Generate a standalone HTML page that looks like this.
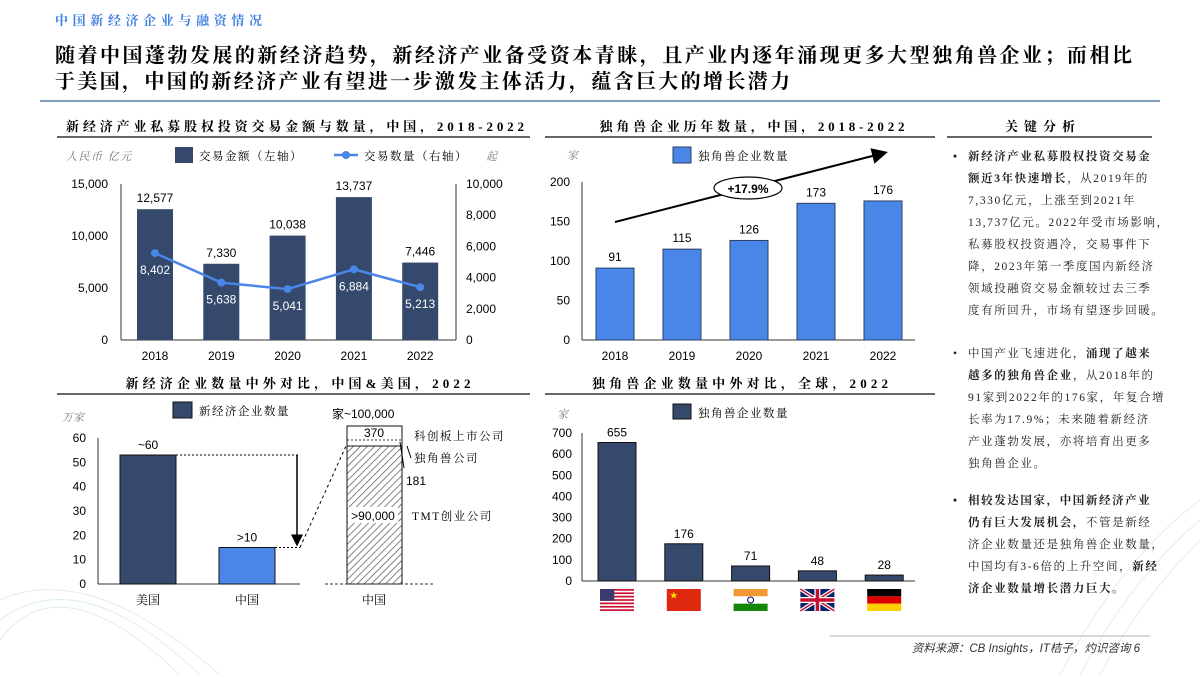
<!DOCTYPE html>
<html><head><meta charset="utf-8"><style>
html,body{margin:0;padding:0;background:#fff;}
svg{display:block;font-family:"Liberation Sans","Noto Sans CJK SC",sans-serif;}
.cn{font-family:"Liberation Serif","Noto Serif CJK SC",serif;}
.ls{letter-spacing:1.5px;}
</style></head><body>
<svg id="s" width="1200" height="675" viewBox="0 0 1200 675" xmlns="http://www.w3.org/2000/svg">
<defs>
<pattern id="hatch" width="5" height="5" patternUnits="userSpaceOnUse" patternTransform="rotate(45)">
<rect width="5" height="5" fill="#fff"/><line x1="0" y1="0" x2="0" y2="5" stroke="#666" stroke-width="1.6"/></pattern>
<marker id="ah" markerWidth="8" markerHeight="8" refX="6" refY="4" orient="auto"><path d="M0,0 L8,4 L0,8 z" fill="#000"/></marker>
</defs>
<g fill="none" stroke="#cfe6f3" stroke-width="1" opacity="0.7">
<path d="M0,640 Q60,560 180,675"/><path d="M0,620 Q80,560 200,675"/><path d="M0,600 Q90,560 220,675"/>
<path d="M1200,500 Q1120,560 1060,675"/><path d="M1200,520 Q1130,580 1080,675"/><path d="M1200,540 Q1140,600 1100,675"/>
</g>
<text x="55" y="25" class="cn" font-size="13" font-weight="bold" fill="#3f7fe0" textLength="207" lengthAdjust="spacing">中国新经济企业与融资情况</text>
<text x="55" y="62" class="cn" font-size="20" font-weight="bold" fill="#000" textLength="1077" lengthAdjust="spacing">随着中国蓬勃发展的新经济趋势，新经济产业备受资本青睐，且产业内逐年涌现更多大型独角兽企业；而相比</text>
<text x="55" y="88" class="cn" font-size="20" font-weight="bold" fill="#000" textLength="735" lengthAdjust="spacing">于美国，中国的新经济产业有望进一步激发主体活力，蕴含巨大的增长潜力</text>
<line x1="40" y1="101" x2="1160" y2="101" stroke="#5b7fa6" stroke-width="1.5"/>

<g class="cn" font-weight="bold" font-size="13" text-anchor="middle">
<text x="295" y="131" textLength="458" lengthAdjust="spacing">新经济产业私募股权投资交易金额与数量，中国，2018-2022</text>
<text x="752" y="131" textLength="305" lengthAdjust="spacing">独角兽企业历年数量，中国，2018-2022</text>
<text x="1040" y="131" textLength="70" lengthAdjust="spacing">关键分析</text>
<text x="298" y="388" textLength="345" lengthAdjust="spacing">新经济企业数量中外对比，中国&amp;美国，2022</text>
<text x="740" y="388" textLength="296" lengthAdjust="spacing">独角兽企业数量中外对比，全球，2022</text>
</g>
<g stroke="#333" stroke-width="1.5">
<line x1="57" y1="137" x2="530" y2="137"/><line x1="545" y1="137" x2="935" y2="137"/><line x1="947" y1="137" x2="1152" y2="137"/>
<line x1="57" y1="394" x2="530" y2="394"/><line x1="545" y1="394" x2="935" y2="394"/>
</g>

<g id="c1"></g>
<g id="c2"></g>
<g id="c3"></g>
<g id="c4"></g>

<g class="cn" font-size="11.5" fill="#222" style="letter-spacing:1.6px">
<text x="953" y="160" font-weight="bold">•</text>
<text x="968" y="160" font-weight="bold">新经济产业私募股权投资交易金</text>
<text x="968" y="182"><tspan font-weight="bold">额近3年快速增长</tspan>，从2019年的</text>
<text x="968" y="204">7,330亿元，上涨至到2021年</text>
<text x="968" y="226">13,737亿元。2022年受市场影响，</text>
<text x="968" y="248">私募股权投资遇冷，交易事件下</text>
<text x="968" y="270">降，2023年第一季度国内新经济</text>
<text x="968" y="292">领域投融资交易金额较过去三季</text>
<text x="968" y="314">度有所回升，市场有望逐步回暖。</text>
<text x="953" y="357">•</text>
<text x="968" y="357">中国产业飞速进化，<tspan font-weight="bold">涌现了越来</tspan></text>
<text x="968" y="379"><tspan font-weight="bold">越多的独角兽企业</tspan>，从2018年的</text>
<text x="968" y="401">91家到2022年的176家，年复合增</text>
<text x="968" y="423">长率为17.9%；未来随着新经济</text>
<text x="968" y="445">产业蓬勃发展，亦将培育出更多</text>
<text x="968" y="467">独角兽企业。</text>
<text x="953" y="504" font-weight="bold">•</text>
<text x="968" y="504" font-weight="bold">相较发达国家，中国新经济产业</text>
<text x="968" y="526"><tspan font-weight="bold">仍有巨大发展机会，</tspan>不管是新经</text>
<text x="968" y="548">济企业数量还是独角兽企业数量，</text>
<text x="968" y="570">中国均有3-6倍的上升空间，<tspan font-weight="bold">新经</tspan></text>
<text x="968" y="592" font-weight="bold">济企业数量增长潜力巨大。</text>
</g>

<line x1="830" y1="636" x2="1150" y2="636" stroke="#999" stroke-width="0.8"/>
<text x="1140" y="652" text-anchor="end" font-size="11.5" font-style="italic" fill="#333">资料来源：CB Insights，IT桔子，灼识咨询  6</text>
</svg>
<script>
// ---- Chart 1 data ----
const c1Years = ["2018","2019","2020","2021","2022"];
const c1Amount = [12577, 7330, 10038, 13737, 7446];
const c1Count = [8402, 5638, 5041, 6884, 5213];
const c1LeftTicks = [0, 5000, 10000, 15000];
const c1RightTicks = [0, 2000, 4000, 6000, 8000, 10000];
// ---- Chart 2 data ----
const c2Years = ["2018","2019","2020","2021","2022"];
const c2Values = [91, 115, 126, 173, 176];
const c2Ticks = [0, 50, 100, 150, 200];
// ---- Chart 3 data ----
const c3Cats = ["美国","中国"];
const c3Values = [53, 15];
const c3Labels = ["~60", ">10"];
const c3Ticks = [0, 10, 20, 30, 40, 50, 60];
// ---- Chart 4 data ----
const c4Countries = ["US","CN","IN","UK","DE"];
const c4Values = [655, 176, 71, 48, 28];
const c4Ticks = [0, 100, 200, 300, 400, 500, 600, 700];

const NS = "http://www.w3.org/2000/svg";
function mk(parent, tag, attrs, text){
  const e = document.createElementNS(NS, tag);
  for (const k in attrs) e.setAttribute(k, attrs[k]);
  if (text !== undefined) e.textContent = text;
  parent.appendChild(e); return e;
}
const fmt = v => v.toLocaleString("en-US");

(function(){
  const g = document.getElementById("c1");
  const y0 = 340, yTop = 184;
  const yL = v => y0 - v / 15000 * (y0 - yTop);
  const yR = v => y0 - v / 10000 * (y0 - yTop);
  const yLine = v => 343 - v * 0.0107;
  const xC = i => 155 + i * 66.3;
  mk(g,"line",{x1:121,y1:yTop,x2:121,y2:y0,stroke:"#333"});
  mk(g,"line",{x1:456,y1:yTop,x2:456,y2:y0,stroke:"#333"});
  mk(g,"line",{x1:121,y1:y0,x2:456,y2:y0,stroke:"#333"});
  c1LeftTicks.forEach(t=>{
    const l = mk(g,"text",{x:108,y:yL(t)+4,"text-anchor":"end","font-size":12},fmt(t));
     
  });
  c1RightTicks.forEach(t=>{
    const l = mk(g,"text",{x:466,y:yR(t)+4,"font-size":12},fmt(t));
     
  });
  c1Amount.forEach((v,i)=>{
    const b = mk(g,"rect",{x:xC(i)-18,y:yL(v),width:36,height:y0-yL(v),fill:"#34496b"});
     
    mk(g,"text",{x:xC(i),y:yL(v)-7,"text-anchor":"middle","font-size":12},fmt(v));
    const xl = mk(g,"text",{x:xC(i),y:y0+20,"text-anchor":"middle","font-size":12},c1Years[i]);
     
  });
  const pts = c1Count.map((v,i)=>xC(i)+","+yLine(v)).join(" ");
  const pl = mk(g,"polyline",{points:pts,fill:"none",stroke:"#4a86e8","stroke-width":2.5});
   
  c1Count.forEach((v,i)=>{
    const c = mk(g,"circle",{cx:xC(i),cy:yLine(v),r:4,fill:"#4a86e8"});
     
    mk(g,"text",{x:xC(i),y:yLine(v)+21,"text-anchor":"middle","font-size":12,fill:"#fff"},fmt(v));
  });
  mk(g,"text",{x:66,y:160,"font-size":11,"font-style":"italic",fill:"#777",class:"cn ls"},"人民币 亿元");
  const lb = mk(g,"rect",{x:175,y:147,width:18,height:16,fill:"#34496b"});
   
  mk(g,"text",{x:199,y:160,"font-size":11.5,class:"cn ls"},"交易金额（左轴）");
  mk(g,"line",{x1:334,y1:155,x2:358,y2:155,stroke:"#4a86e8","stroke-width":2.5});
  mk(g,"circle",{cx:346,cy:155,r:4,fill:"#4a86e8"});
  mk(g,"text",{x:364,y:160,"font-size":11.5,class:"cn ls"},"交易数量（右轴）");
  mk(g,"text",{x:486,y:160,"font-size":11,"font-style":"italic",fill:"#777",class:"cn"},"起");
})();

(function(){
  const g = document.getElementById("c2");
  const y0 = 340, yTop = 182;
  const y = v => y0 - v / 200 * (y0 - yTop);
  const xC = i => 615 + i * 67;
  mk(g,"line",{x1:582,y1:yTop,x2:582,y2:y0,stroke:"#333"});
  mk(g,"line",{x1:582,y1:y0,x2:915,y2:y0,stroke:"#333"});
  c2Ticks.forEach(t=>{
    const l = mk(g,"text",{x:570,y:y(t)+4,"text-anchor":"end","font-size":12},t);
     
  });
  c2Values.forEach((v,i)=>{
    const b = mk(g,"rect",{x:xC(i)-19,y:y(v),width:38,height:y0-y(v),fill:"#4a86e8",stroke:"#2a3f63","stroke-width":1});
     
    mk(g,"text",{x:xC(i),y:y(v)-7,"text-anchor":"middle","font-size":12},v);
    mk(g,"text",{x:xC(i),y:y0+20,"text-anchor":"middle","font-size":12},c2Years[i]);
  });
  const tr = mk(g,"line",{x1:615,y1:222,x2:884,y2:153,stroke:"#000","stroke-width":2,"marker-end":"url(#ah)"});
   
  mk(g,"ellipse",{cx:748,cy:188,rx:34,ry:11,fill:"#fff",stroke:"#000","stroke-width":1.2});
  mk(g,"text",{x:748,y:193,"text-anchor":"middle","font-size":12,"font-weight":"bold"},"+17.9%");
  mk(g,"text",{x:567,y:159,"font-size":11,"font-style":"italic",fill:"#777",class:"cn"},"家");
  const lb = mk(g,"rect",{x:673,y:147,width:18,height:16,fill:"#4a86e8",stroke:"#2a3f63"});
   
  mk(g,"text",{x:698,y:160,"font-size":11.5,class:"cn ls"},"独角兽企业数量");
})();

(function(){
  const g = document.getElementById("c3");
  const y0 = 584, yTop = 438;
  const y = v => y0 - v / 60 * (y0 - yTop);
  const xC = i => 148 + i * 99;
  mk(g,"line",{x1:98,y1:yTop,x2:98,y2:y0,stroke:"#333"});
  mk(g,"line",{x1:98,y1:y0,x2:300,y2:y0,stroke:"#333"});
  c3Ticks.forEach(t=>{
    const l = mk(g,"text",{x:86,y:y(t)+4,"text-anchor":"end","font-size":12},t);
     
  });
  c3Values.forEach((v,i)=>{
    const b = mk(g,"rect",{x:xC(i)-28,y:y(v),width:56,height:y0-y(v),fill:i===0?"#34496b":"#4a86e8",stroke:"#111"});
     
    mk(g,"text",{x:xC(i),y:y(v)-6,"text-anchor":"middle","font-size":12},c3Labels[i]);
    mk(g,"text",{x:xC(i),y:604,"text-anchor":"middle","font-size":12,class:"cn"},c3Cats[i]);
  });
  mk(g,"line",{x1:xC(0)+28,y1:y(c3Values[0]),x2:300,y2:y(c3Values[0]),stroke:"#000","stroke-dasharray":"2,2"});
  mk(g,"line",{x1:xC(1)+28,y1:y(c3Values[1]),x2:300,y2:y(c3Values[1]),stroke:"#000","stroke-dasharray":"2,2"});
  mk(g,"line",{x1:297,y1:y(c3Values[0]),x2:297,y2:y(c3Values[1])-4,stroke:"#000","stroke-width":1.5,"marker-end":"url(#ah)"});
  mk(g,"line",{x1:300,y1:y(c3Values[1]),x2:346,y2:446,stroke:"#000","stroke-dasharray":"3,3"});
  const hb = mk(g,"rect",{x:347,y:446,width:55,height:y0-446,fill:"url(#hatch)",stroke:"#111"});
   
  mk(g,"rect",{x:347,y:426,width:55,height:20,fill:"#fff",stroke:"#111"});
  mk(g,"line",{x1:347,y1:440,x2:402,y2:440,stroke:"#333","stroke-dasharray":"2,2"});
  mk(g,"text",{x:374,y:437,"text-anchor":"middle","font-size":12},"370");
  mk(g,"line",{x1:325,y1:584,x2:435,y2:584,stroke:"#333","stroke-dasharray":"3,2"});
  mk(g,"rect",{x:348,y:507,width:50,height:16,fill:"#fff"});
  mk(g,"text",{x:373,y:520,"text-anchor":"middle","font-size":12},">90,000");
  mk(g,"text",{x:332,y:418,"font-size":12},"家~100,000");
  mk(g,"text",{x:414,y:440,"font-size":11.5,class:"cn ls"},"科创板上市公司");
  mk(g,"text",{x:414,y:462,"font-size":11.5,class:"cn ls"},"独角兽公司");
  mk(g,"line",{x1:400,y1:442,x2:404,y2:468,stroke:"#000"});
  mk(g,"line",{x1:407,y1:446,x2:411,y2:458,stroke:"#000"});
  mk(g,"text",{x:406,y:485,"font-size":12},"181");
  mk(g,"text",{x:412,y:520,"font-size":11.5,class:"cn ls"},"TMT创业公司");
  mk(g,"text",{x:374,y:604,"text-anchor":"middle","font-size":12,class:"cn"},"中国");
  mk(g,"text",{x:62,y:421,"font-size":11,"font-style":"italic",fill:"#777",class:"cn"},"万家");
  const lb = mk(g,"rect",{x:173,y:402,width:19,height:16,fill:"#34496b",stroke:"#111"});
   
  mk(g,"text",{x:199,y:415,"font-size":11.5,class:"cn ls"},"新经济企业数量");
})();

(function(){
  const g = document.getElementById("c4");
  const y0 = 581, yTop = 433;
  const y = v => y0 - v / 700 * (y0 - yTop);
  const xC = i => 617 + i * 66.8;
  mk(g,"line",{x1:582,y1:yTop,x2:582,y2:y0,stroke:"#333"});
  mk(g,"line",{x1:582,y1:y0,x2:915,y2:y0,stroke:"#333"});
  c4Ticks.forEach(t=>{
    const l = mk(g,"text",{x:572,y:y(t)+4,"text-anchor":"end","font-size":12},t);
     
  });
  c4Values.forEach((v,i)=>{
    const b = mk(g,"rect",{x:xC(i)-19,y:y(v),width:38,height:y0-y(v),fill:"#34496b",stroke:"#111"});
     
    mk(g,"text",{x:xC(i),y:y(v)-6,"text-anchor":"middle","font-size":12},v);
    drawFlag(g, c4Countries[i], xC(i)-17, 589);
  });
  mk(g,"text",{x:557,y:418,"font-size":11,"font-style":"italic",fill:"#777",class:"cn"},"家");
  const lb = mk(g,"rect",{x:673,y:404,width:18,height:15,fill:"#34496b",stroke:"#111"});
   
  mk(g,"text",{x:698,y:417,"font-size":11.5,class:"cn ls"},"独角兽企业数量");
})();

function drawFlag(g, c, x, y){
  const w=34, h=22;
  const f = mk(g,"g",{});
  
  
  if(c==="US"){
    mk(f,"rect",{x:x,y:y,width:w,height:h,fill:"#fff"});
    for(let k=0;k<7;k++) mk(f,"rect",{x:x,y:y+k*2*h/13,width:w,height:h/13,fill:"#c8102e"});
    mk(f,"rect",{x:x,y:y,width:w*0.42,height:h*7/13,fill:"#3c3b6e"});
  } else if(c==="CN"){
    mk(f,"rect",{x:x,y:y,width:w,height:h,fill:"#de2910"});
    mk(f,"text",{x:x+3,y:y+9,"font-size":8,fill:"#ffde00"},"★");
  } else if(c==="IN"){
    mk(f,"rect",{x:x,y:y,width:w,height:h/3,fill:"#f29933"});
    mk(f,"rect",{x:x,y:y+h/3,width:w,height:h/3,fill:"#fff"});
    mk(f,"rect",{x:x,y:y+2*h/3,width:w,height:h/3,fill:"#138808"});
    mk(f,"circle",{cx:x+w/2,cy:y+h/2,r:3,fill:"none",stroke:"#000080"});
  } else if(c==="UK"){
    mk(f,"rect",{x:x,y:y,width:w,height:h,fill:"#012169"});
    mk(f,"path",{d:`M${x},${y}L${x+w},${y+h}M${x+w},${y}L${x},${y+h}`,stroke:"#fff","stroke-width":4});
    mk(f,"path",{d:`M${x},${y}L${x+w},${y+h}M${x+w},${y}L${x},${y+h}`,stroke:"#c8102e","stroke-width":1.5});
    mk(f,"path",{d:`M${x+w/2},${y}V${y+h}M${x},${y+h/2}H${x+w}`,stroke:"#fff","stroke-width":6});
    mk(f,"path",{d:`M${x+w/2},${y}V${y+h}M${x},${y+h/2}H${x+w}`,stroke:"#c8102e","stroke-width":3.5});
  } else if(c==="DE"){
    mk(f,"rect",{x:x,y:y,width:w,height:h/3,fill:"#000"});
    mk(f,"rect",{x:x,y:y+h/3,width:w,height:h/3,fill:"#dd0000"});
    mk(f,"rect",{x:x,y:y+2*h/3,width:w,height:h/3,fill:"#ffce00"});
  }
}
</script>
</body></html>
